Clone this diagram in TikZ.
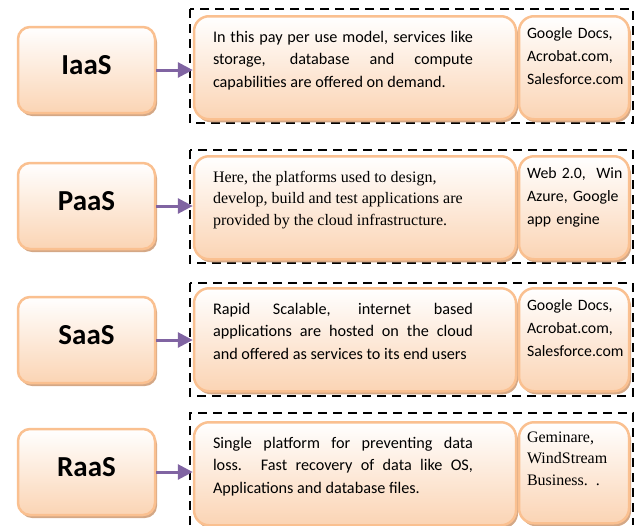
\documentclass[tikz,border=0pt]{standalone}
\usepackage{fontspec}
\setmainfont{Carlito}
\newfontfamily\timesfont{Liberation Serif}
\definecolor{peach}{RGB}{251, 212, 180}
\definecolor{peachline}{RGB}{250, 192, 144}
\definecolor{shadowbrown}{RGB}{212, 168, 134}
\definecolor{arrowpurple}{RGB}{128, 100, 162}
\usetikzlibrary{arrows.meta, shadows}

\begin{document}
\begin{tikzpicture}[
  x=1pt, y=-1pt,
  boxbase/.style={draw=peachline, line width=2.5pt, top color=white, bottom color=peach,
    drop shadow={shadow xshift=2pt, shadow yshift=-3pt, fill=shadowbrown, opacity=1}},
  labelbox/.style={boxbase, rounded corners=12pt, minimum width=137pt, minimum height=86pt,
    text depth=10pt, font=\fontsize{29}{34}\selectfont\bfseries},
  descbox/.style={boxbase, rounded corners=15pt, anchor=north, minimum width=322pt,
    text width=284pt, inner xsep=19pt, inner ysep=8pt, text height=18pt, text depth=69pt,
    align=justify, font=\fontsize{16.2}{22.5}\selectfont,
    execute at begin node={\rightskip=24pt\relax}},
  exbox/.style={boxbase, rounded corners=15pt, anchor=north, minimum width=110pt,
    text width=94pt, inner xsep=8pt, inner ysep=8pt, text height=14pt, text depth=73pt,
    align=left, font=\fontsize{15.8}{23}\selectfont},
  groupline/.style={draw, line width=2.8pt, dash pattern=on 9pt off 6pt},
  toarrow/.style={-{Triangle[length=15pt, width=15pt]}, line width=3pt, arrowpurple}
]
  \useasboundingbox (0, 0) rectangle (636, 525);

  % Dashed groups
  \draw[groupline] (190, 9) rectangle (633, 123);
  \draw[groupline] (190, 150) rectangle (633, 263);
  \draw[groupline] (190, 283) rectangle (633, 396);
  \draw[groupline] (190, 525) -- (190, 413) -- (633, 413) -- (633, 525);

  % IaaS
  \node[labelbox] (iaas) at (86.5, 70) {IaaS};
  \node[descbox] (iaasdesc) at (355, 15) {In this pay per use model, services like\linebreak
    storage, database and compute\linebreak capabilities are offered on demand.};
  \node[exbox] (iaasex) at (574, 15) {Google Docs,\\Acrobat.com,\\Salesforce.com};

  % PaaS
  \node[labelbox] (paas) at (86.5, 206) {PaaS};
  \node[descbox, font=\timesfont\fontsize{16}{21.7}\selectfont] (paasdesc) at (355, 155) {Here, the platforms used to design,\\
    develop, build and test applications are\\ provided by the cloud infrastructure.};
  \node[exbox] (paasex) at (574, 155) {\mbox{Web 2.0,\ \ Win}\\Azure, Google\\app engine};

  % SaaS
  \node[labelbox] (saas) at (86.5, 340) {SaaS};
  \node[descbox] (saasdesc) at (355, 287) {Rapid Scalable, internet based\linebreak
    applications are hosted on the cloud\linebreak and offered as services to its end users};
  \node[exbox] (saasex) at (574, 287) {Google Docs,\\Acrobat.com,\\Salesforce.com};

  % RaaS
  \node[labelbox] (raas) at (86.5, 472) {RaaS};
  \node[descbox] (raasdesc) at (355, 421) {Single platform for preventing data\linebreak
    loss. Fast recovery of data like OS,\linebreak Applications and database files.};
  \node[exbox, text height=12pt, font=\timesfont\fontsize{16}{21.7}\selectfont] (raasex) at (574, 421) {Geminare,\\WindStream\\Business. .};

  \draw[toarrow] (iaas.east) -- (iaas.east -| iaasdesc.west);
  \draw[toarrow] (paas.east) -- (paas.east -| paasdesc.west);
  \draw[toarrow] (saas.east) -- (saas.east -| saasdesc.west);
  \draw[toarrow] (raas.east) -- (raas.east -| raasdesc.west);
\end{tikzpicture}
\end{document}
